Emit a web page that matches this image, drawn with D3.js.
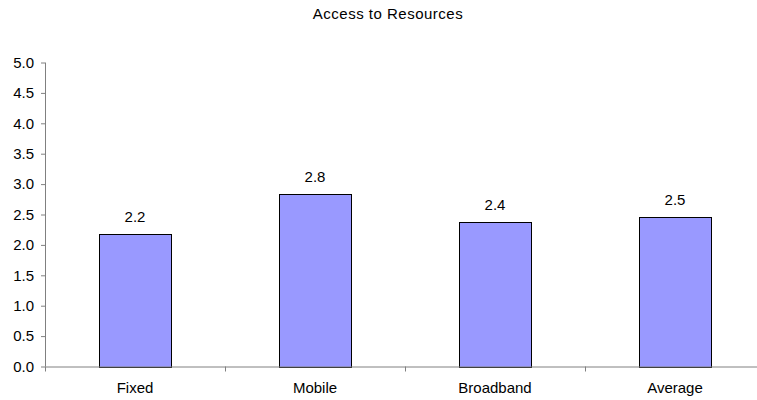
<!DOCTYPE html>
<html>
<head>
<meta charset="utf-8">
<script src="https://cdn.jsdelivr.net/npm/d3@7"></script>
<style>
  html, body { margin: 0; padding: 0; background: #fff; overflow: hidden; }
  svg { display: block; font-family: "Liberation Sans", Arial, sans-serif; }
</style>
</head>
<body>
<svg id="chart" width="757" height="400"></svg>
<script>
// Chart data
const title = "Access to Resources";
const categories = ["Fixed", "Mobile", "Broadband", "Average"];
const values = [2.18, 2.84, 2.38, 2.46];
const yTicks = [0, 0.5, 1, 1.5, 2, 2.5, 3, 3.5, 4, 4.5, 5];

const svg = d3.select("#chart");
const plot = { left: 45, right: 765, top: 62.5, bottom: 366.5 };
const fontSize = 15;

const x = d3.scaleBand()
  .domain(categories)
  .range([plot.left, plot.right])
  .paddingInner(0.6)
  .paddingOuter(0.3);

const y = d3.scaleLinear().domain([0, 5]).range([plot.bottom, plot.top]);

// Title
svg.append("text")
  .attr("x", 388)
  .attr("y", 19)
  .attr("text-anchor", "middle")
  .attr("font-size", fontSize)
  .attr("letter-spacing", 0.5)
  .attr("fill", "#000")
  .text(title);

const rows = categories.map((c, i) => ({ c, v: values[i] }));

// Bars
svg.append("g").selectAll("rect")
  .data(rows)
  .join("rect")
  .attr("x", d => Math.round(x(d.c)) + 0.5)
  .attr("y", d => Math.round(y(d.v)) + 0.5)
  .attr("width", x.bandwidth())
  .attr("height", d => Math.round(y(0)) - Math.round(y(d.v)))
  .attr("fill", "#9999FF")
  .attr("stroke", "#000")
  .attr("stroke-width", 1);

// Value labels
svg.append("g").selectAll("text")
  .data(rows)
  .join("text")
  .attr("x", d => x(d.c) + x.bandwidth() / 2)
  .attr("y", d => y(d.v) - 11.5)
  .attr("text-anchor", "middle")
  .attr("font-size", fontSize)
  .attr("fill", "#000")
  .text(d => d.v.toFixed(1));

// Y axis
const yAxis = svg.append("g")
  .attr("transform", `translate(${plot.left},0)`)
  .call(d3.axisLeft(y).tickValues(yTicks).tickFormat(d3.format(".1f")).tickSize(4).tickPadding(7));
yAxis.attr("font-family", null).attr("font-size", null);
yAxis.select(".domain").attr("stroke", "#808080").attr("d", `M0.5,${plot.top}V${plot.bottom}`);
yAxis.selectAll(".tick line").attr("stroke", "#808080");
yAxis.selectAll(".tick text").attr("font-size", fontSize).attr("fill", "#000");

// X axis with tick marks on the category boundaries
const xAxis = svg.append("g").attr("transform", `translate(0,${plot.bottom})`);
xAxis.append("line")
  .attr("x1", plot.left).attr("x2", plot.right)
  .attr("y1", 0.5).attr("y2", 0.5)
  .attr("stroke", "#808080");
const boundaries = categories.map(c => x(c) - x.step() * x.paddingOuter());
xAxis.selectAll(".bound")
  .data(boundaries)
  .join("line")
  .attr("class", "bound")
  .attr("x1", d => Math.round(d) + 0.5).attr("x2", d => Math.round(d) + 0.5)
  .attr("y1", 0).attr("y2", 5)
  .attr("stroke", "#808080");
xAxis.selectAll(".cat")
  .data(categories)
  .join("text")
  .attr("class", "cat")
  .attr("x", d => x(d) + x.bandwidth() / 2)
  .attr("y", 26)
  .attr("text-anchor", "middle")
  .attr("font-size", fontSize)
  .attr("fill", "#000")
  .text(d => d);
</script>
</body>
</html>
